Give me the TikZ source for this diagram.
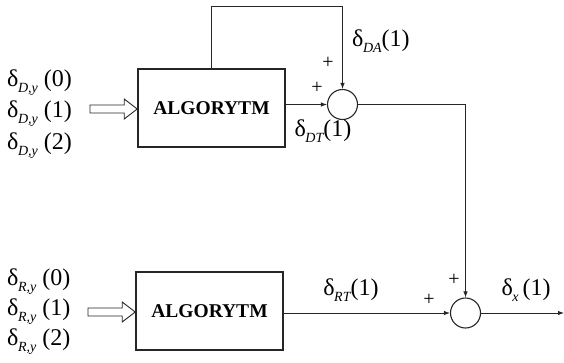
\documentclass[tikz,border=0pt]{standalone}
\usepackage{fontspec}
\setmainfont{Liberation Serif}
\usetikzlibrary{arrows.meta, positioning, calc}
\newcommand{\dl}[1]{δ\kern-0.5pt\raisebox{-0.55ex}{\fontsize{14}{14}\selectfont\itshape #1}}

\begin{document}
\begin{tikzpicture}[x=1pt, y=-1pt,
      blok/.style={rectangle, draw=black!85, line width=1.6pt, minimum width=147pt,
        minimum height=78pt, font=\fontsize{19.5}{22}\selectfont\bfseries},
      sum/.style={circle, draw=black!85, line width=1.1pt, minimum size=30pt, inner sep=0pt},
      sig/.style={draw=black!85, line width=0.9pt, -{Latex[length=6pt, width=4.5pt]}},
      wire/.style={draw=black!85, line width=0.9pt},
      hollow/.style={draw=black!85, line width=0.9pt, line join=miter},
      lab/.style={font=\fontsize{24}{26}\selectfont, inner sep=0pt},
      pl/.style={font=\fontsize{20}{20}\selectfont, inner sep=0pt}
    ]
      \useasboundingbox (0,0) rectangle (564,362);

      \node[blok] (a1) at (211.5,108) {ALGORYTM};
      \node[blok] (a2) at (209.5,311) {ALGORYTM};
      \node[sum] (s1) at (342.5,104.5) {};
      \node[sum] (s2) at (465.5,313) {};

      \node[lab, anchor=west] (d0) at (7,83) {\dl{D,y} (0)};
      \node[lab, anchor=west] (d1) at (7,114) {\dl{D,y} (1)};
      \node[lab, anchor=west] (d2) at (7,146) {\dl{D,y} (2)};
      \node[lab, anchor=west] (r0) at (7,282) {\dl{R,y} (0)};
      \node[lab, anchor=west] (r1) at (7,312) {\dl{R,y} (1)};
      \node[lab, anchor=west] (r2) at (7,342) {\dl{R,y} (2)};

      \coordinate (in1) at (90,109);
      \coordinate (in2) at (88,312);
      \coordinate (t1) at (in1 -| a1.west);
      \coordinate (t2) at (in2 -| a2.west);
      \coordinate (fb) at (342.5,6);
      \coordinate (out) at (564,313);

      \draw[hollow] ($(in1)+(0,-4)$) -- ($(t1)+(-13,-4)$) -- ($(t1)+(-13,-10)$) -- (t1)
        -- ($(t1)+(-13,10)$) -- ($(t1)+(-13,4)$) -- ($(in1)+(0,4)$) -- cycle;
      \draw[hollow] ($(in2)+(0,-4)$) -- ($(t2)+(-13,-4)$) -- ($(t2)+(-13,-10)$) -- (t2)
        -- ($(t2)+(-13,10)$) -- ($(t2)+(-13,4)$) -- ($(in2)+(0,4)$) -- cycle;

      \draw[wire] (a1.north) |- (fb);
      \draw[sig] (fb) -- (s1.north);
      \draw[sig] (a1.east |- s1.west) -- (s1.west);
      \draw[wire] (s1.east) -| ($(s2.north)+(0,-20)$);
      \draw[sig] ($(s2.north)+(0,-20)$) -- (s2.north);
      \draw[sig] (a2.east |- s2.west) -- (s2.west);
      \draw[sig] (s2.east) -- (out);

      \node[lab, anchor=west] (da) at (352,41) {\dl{DA}(1)};
      \node[lab] (dt) at (323,131) {\dl{DT}(1)};
      \node[lab] (rt) at (351,290) {\dl{RT}(1)};
      \node[lab] (dx) at (526,290) {\dl{x}\,(1)};

      \node[pl] (p1) at (328,63) {+};
      \node[pl] (p2) at (317,88) {+};
      \node[pl] (p3) at (429,300) {+};
      \node[pl] (p4) at (454,280) {+};
    \end{tikzpicture}
\end{document}
